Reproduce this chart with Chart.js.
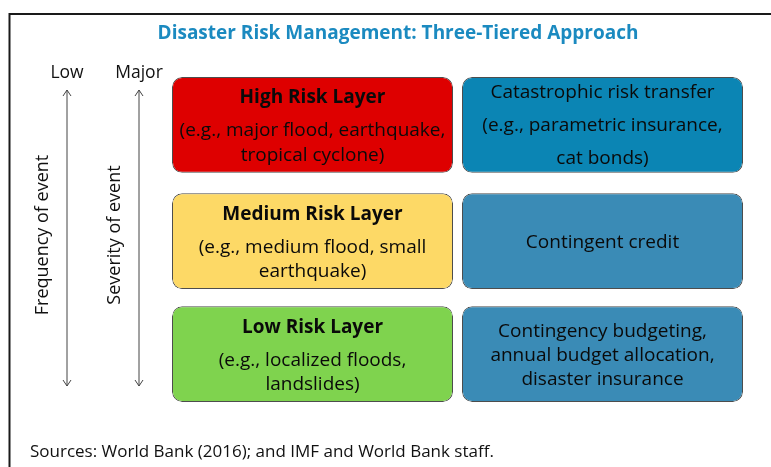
<!DOCTYPE html>
<html>
<head>
<meta charset="utf-8">
<title>Disaster Risk Management: Three-Tiered Approach</title>
<script src="https://cdn.jsdelivr.net/npm/chart.js@4.4.1/dist/chart.umd.min.js"></script>
<style>
  html, body { margin: 0; padding: 0; background: #ffffff; }
  #wrap { position: relative; width: 771px; height: 467px; }
</style>
</head>
<body>
<div id="wrap"><canvas id="riskChart" width="771" height="467"></canvas></div>
<script>
// Columns of the diagram
const columns = ['Risk layer', 'Financing instrument'];

// Tiers from bottom to top, each box spans a band on the y axis
const tiers = ['Low', 'Medium', 'High'];
const tierBands = [[0.08, 0.92], [1.07, 1.91], [2.09, 2.93]];

// Box texts (bottom to top)
const layerTitles = ['Low Risk Layer', 'Medium Risk Layer', 'High Risk Layer'];
const layerExamples = [
    ['(e.g., localized floods,', 'landslides)'],
    ['(e.g., medium flood, small', 'earthquake)'],
    ['(e.g., major flood, earthquake,', 'tropical cyclone)']
];
const instruments = [
    ['Contingency budgeting,', 'annual budget allocation,', 'disaster insurance'],
    ['Contingent credit'],
    ['Catastrophic risk transfer', '(e.g., parametric insurance,', 'cat bonds)']
];

// Box colours (bottom to top)
const layerColors = ['#7fd34e', '#fdd966', '#de0000'];
const instrumentColors = ['#3a8bb6', '#3a8bb6', '#0b85b4'];

// Side axis labels
const frequencyLabel = 'Frequency of event';
const severityLabel = 'Severity of event';
const frequencyTop = 'Low';
const severityTop = 'Major';

const titleText = 'Disaster Risk Management: Three-Tiered Approach';
const sourceText = 'Sources: World Bank (2016); and IMF and World Bank staff.';

const FONT = '"Open Sans", "Noto Sans", sans-serif';

// Draws a vertical double-headed arrow
function drawArrow(ctx, x, y1, y2) {
    ctx.save();
    ctx.strokeStyle = '#444444';
    ctx.lineWidth = 1;
    ctx.beginPath();
    ctx.moveTo(x, y1);
    ctx.lineTo(x, y2);
    ctx.moveTo(x - 4, y1 + 6);
    ctx.lineTo(x, y1);
    ctx.lineTo(x + 4, y1 + 6);
    ctx.moveTo(x - 4, y2 - 6);
    ctx.lineTo(x, y2);
    ctx.lineTo(x + 4, y2 - 6);
    ctx.stroke();
    ctx.restore();
}

const diagramText = {
    id: 'diagramText',
    beforeDraw(chart) {
        const ctx = chart.ctx;
        ctx.save();
        ctx.fillStyle = '#ffffff';
        ctx.fillRect(0, 0, chart.width, chart.height);
        // frame
        ctx.strokeStyle = '#1a1a1a';
        ctx.lineWidth = 2;
        ctx.strokeRect(9.5, 14, chart.width + 20, chart.height + 20);
        ctx.restore();
    },
    afterDatasetsDraw(chart) {
        const ctx = chart.ctx;
        ctx.save();
        ctx.textAlign = 'center';
        ctx.textBaseline = 'middle';

        // title
        ctx.fillStyle = '#1b8ac0';
        ctx.font = 'bold 19px ' + FONT;
        ctx.fillText(titleText, 398, 34);

        // side arrows and labels
        ctx.fillStyle = '#111111';
        ctx.font = '17.5px ' + FONT;
        ctx.fillText(frequencyTop, 67, 73);
        ctx.fillText(severityTop, 139, 73);
        drawArrow(ctx, 67, 90, 386);
        drawArrow(ctx, 139, 90, 386);

        ctx.font = '18px ' + FONT;
        ctx.save();
        ctx.translate(43, 235);
        ctx.rotate(-Math.PI / 2);
        ctx.fillText(frequencyLabel, 0, 0);
        ctx.restore();
        ctx.save();
        ctx.translate(115, 235);
        ctx.rotate(-Math.PI / 2);
        ctx.fillText(severityLabel, 0, 0);
        ctx.restore();

        // box texts
        chart.data.datasets.forEach((ds, t) => {
            const meta = chart.getDatasetMeta(t);
            meta.data.forEach((bar, c) => {
                const top = Math.min(bar.y, bar.base);
                const bottom = Math.max(bar.y, bar.base);
                const mid = (top + bottom) / 2;
                ctx.fillStyle = '#0a0a0a';
                if (c === 0) {
                    ctx.font = 'bold 19px ' + FONT;
                    ctx.fillText(layerTitles[t], bar.x, top + 21);
                    ctx.font = '19px ' + FONT;
                    layerExamples[t].forEach((line, i) => {
                        ctx.fillText(line, bar.x, top + 54 + i * 24.5);
                    });
                } else {
                    const lines = instruments[t];
                    const gap = t === 2 ? 33 : 24;
                    const start = mid - (lines.length - 1) * gap / 2 + 1;
                    ctx.font = '19px ' + FONT;
                    lines.forEach((line, i) => {
                        ctx.fillText(line, bar.x, start + i * gap);
                    });
                }
            });
        });

        // source note
        ctx.textAlign = 'left';
        ctx.fillStyle = '#111111';
        ctx.font = '17px ' + FONT;
        ctx.fillText(sourceText, 30, 452);
        ctx.restore();
    }
};

const datasets = tiers.map((tier, t) => ({
    label: tier,
    data: [tierBands[t], tierBands[t]],
    backgroundColor: [layerColors[t], instrumentColors[t]],
    borderColor: '#4d4d4d',
    borderWidth: 1,
    borderRadius: 10,
    borderSkipped: false,
    grouped: false,
    barPercentage: 1,
    categoryPercentage: 0.969
}));

new Chart(document.getElementById('riskChart').getContext('2d'), {
    type: 'bar',
    data: { labels: columns, datasets: datasets },
    options: {
        responsive: false,
        animation: false,
        layout: { padding: { left: 167.5, right: 23.5, top: 69.1, bottom: 55.9 } },
        plugins: {
            legend: { display: false },
            tooltip: { enabled: false },
            title: { display: false }
        },
        scales: {
            x: { display: false },
            y: { display: false, min: 0, max: 3 }
        }
    },
    plugins: [diagramText]
});
</script>
</body>
</html>
